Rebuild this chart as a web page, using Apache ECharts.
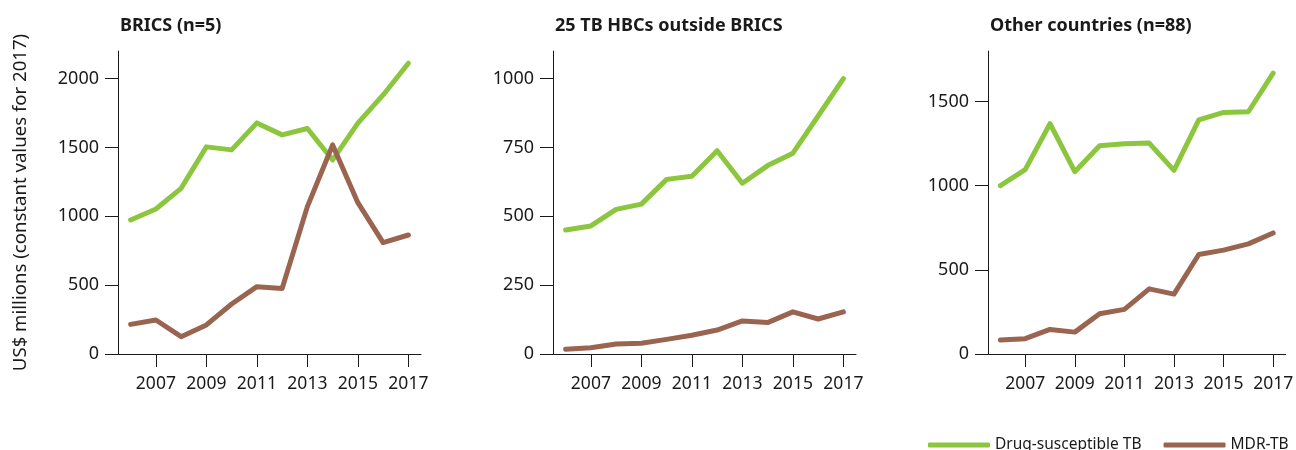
<!DOCTYPE html>
<html>
<head>
<meta charset="utf-8">
<script src="https://cdn.jsdelivr.net/npm/echarts@6/dist/echarts.min.js"></script>
<style>
  html, body { margin: 0; padding: 0; background: #ffffff; }
  #chart { width: 1296px; height: 450px; }
</style>
</head>
<body>
<div id="chart"></div>
<script>
// Years on the horizontal axis
const years = ['2006', '2007', '2008', '2009', '2010', '2011', '2012', '2013', '2014', '2015', '2016', '2017'];

// BRICS (n=5), US$ millions
const bricsDS  = [973, 1053, 1203, 1504, 1482, 1678, 1591, 1637, 1409, 1676, 1881, 2111];
const bricsMDR = [215, 247, 126, 211, 363, 489, 475, 1070, 1518, 1099, 809, 864];

// 25 TB HBCs outside BRICS, US$ millions
const hbcDS  = [450, 465, 525, 544, 634, 645, 738, 620, 684, 729, 864, 1000];
const hbcMDR = [17, 23, 36, 39, 53, 68, 87, 120, 114, 153, 127, 153];

// Other countries (n=88), US$ millions
const otherDS  = [1000, 1095, 1368, 1083, 1237, 1249, 1253, 1091, 1391, 1435, 1439, 1668];
const otherMDR = [83, 91, 146, 130, 239, 265, 387, 356, 591, 617, 654, 719];

// Panel titles and y-axis tick values
const panelTitles = ['BRICS (n=5)', '25 TB HBCs outside BRICS', 'Other countries (n=88)'];
const yTicks1 = [0, 500, 1000, 1500, 2000];
const yTicks2 = [0, 250, 500, 750, 1000];
const yTicks3 = [0, 500, 1000, 1500];
const yMax = [2200, 1100, 1800];

const seriesNames = ['Drug-susceptible TB', 'MDR-TB'];
const GREEN = '#8cc63f';
const BROWN = '#9a6550';
const INK = '#1a1a1a';
const FONT = "'Noto Sans', sans-serif";

const chart = echarts.init(document.getElementById('chart'), null, { renderer: 'canvas' });

const gridLefts = [118, 553, 988];
const oddYear = (i) => i % 2 === 1;

function xAxisFor(idx) {
  return {
    type: 'category',
    gridIndex: idx,
    data: years,
    boundaryGap: true,
    axisLine: { lineStyle: { color: INK, width: 1 } },
    axisTick: { show: true, alignWithLabel: true, interval: oddYear, length: 13, lineStyle: { color: INK, width: 1 } },
    axisLabel: { interval: oddYear, margin: 21, color: INK, fontSize: 17.5, fontFamily: FONT },
    splitLine: { show: false }
  };
}

function yAxisFor(idx, ticks, max, interval) {
  const ax = {
    type: 'value',
    gridIndex: idx,
    min: 0,
    max: max,
    interval: interval,
    axisLine: { show: true, lineStyle: { color: INK, width: 1 } },
    axisTick: { show: true, length: 13, customValues: ticks, lineStyle: { color: INK, width: 1 } },
    axisLabel: {
      margin: 19, color: INK, fontSize: 18, fontFamily: FONT, customValues: ticks,
      formatter: (v) => String(v)
    },
    splitLine: { show: false }
  };
  if (idx === 0) {
    ax.name = 'US$ millions (constant values for 2017)';
    ax.nameLocation = 'middle';
    ax.nameRotate = 90;
    ax.nameGap = 88;
    ax.nameTextStyle = { color: INK, fontSize: 18.6, fontFamily: FONT };
  }
  return ax;
}

function lineSeries(name, idx, data, color) {
  return {
    name: name,
    type: 'line',
    xAxisIndex: idx,
    yAxisIndex: idx,
    data: data,
    showSymbol: false,
    symbol: 'none',
    animation: false,
    lineStyle: { color: color, width: 5, cap: 'round', join: 'round' },
    itemStyle: { color: color }
  };
}

const option = {
  animation: false,
  backgroundColor: '#ffffff',
  title: panelTitles.map((t, i) => ({
    text: t,
    left: gridLefts[i] - 3,
    top: 12,
    textStyle: { color: INK, fontSize: 18, fontWeight: 'bold', fontFamily: FONT }
  })),
  legend: {
    data: seriesNames,
    left: 923,
    top: 432,
    width: 370,
    itemWidth: 62,
    itemHeight: 5,
    itemGap: 22,
    icon: 'roundRect',
    textStyle: { color: INK, fontSize: 15.5, fontFamily: FONT }
  },
  grid: gridLefts.map((l, i) => ({ left: l, top: 51, width: i === 2 ? 302 : 303, height: 303 })),
  xAxis: [xAxisFor(0), xAxisFor(1), xAxisFor(2)],
  yAxis: [
    yAxisFor(0, yTicks1, yMax[0], 500),
    yAxisFor(1, yTicks2, yMax[1], 250),
    yAxisFor(2, yTicks3, yMax[2], 500)
  ],
  series: [
    lineSeries(seriesNames[0], 0, bricsDS, GREEN),
    lineSeries(seriesNames[1], 0, bricsMDR, BROWN),
    lineSeries(seriesNames[0], 1, hbcDS, GREEN),
    lineSeries(seriesNames[1], 1, hbcMDR, BROWN),
    lineSeries(seriesNames[0], 2, otherDS, GREEN),
    lineSeries(seriesNames[1], 2, otherMDR, BROWN)
  ]
};

chart.setOption(option);
</script>
</body>
</html>
